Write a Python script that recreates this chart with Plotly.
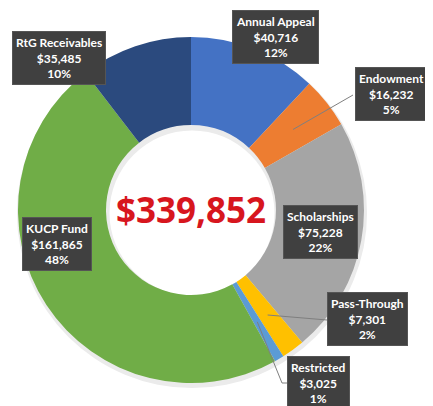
import math
import plotly.graph_objects as go

categories = ["Annual Appeal", "Endowment", "Scholarships", "Pass-Through",
              "Restricted", "KUCP Fund", "RtG Receivables"]
values = [40716, 16232, 75228, 7301, 3025, 161865, 35485]
colors = ["#4472C4", "#ED7D31", "#A5A5A5", "#FFC000", "#5B9BD5", "#70AD47", "#2B4A7E"]
total_label = "$339,852"

W, H = 433, 406
OFF = 8                    # page body margin (px)
CX, CY = 191, 210          # pie centre (screen px)
R_OUT, R_IN = 173, 85      # radii (px)


def px(x):
    return (x - OFF) / W


def py(y):
    return 1 - (y - OFF) / H


total = sum(values)

fig = go.Figure()

# soft shadow behind the ring
fig.add_trace(go.Pie(
    values=[1], sort=False, hole=(R_IN - 2) / (R_OUT + 3),
    marker=dict(colors=["#EBEBEB"], line=dict(width=0)),
    textinfo="none", hoverinfo="skip", showlegend=False,
    domain=dict(x=[px(CX - R_OUT - 2), px(CX + R_OUT + 4)],
                y=[py(CY + R_OUT + 5), py(CY - R_OUT + 1)]),
))

fig.add_trace(go.Pie(
    labels=categories,
    values=values,
    sort=False,
    direction="clockwise",
    rotation=0,
    hole=R_IN / R_OUT,
    marker=dict(colors=colors, line=dict(width=0)),
    textinfo="none",
    hoverinfo="label+value+percent",
    domain=dict(x=[px(CX - R_OUT), px(CX + R_OUT)],
                y=[py(CY + R_OUT), py(CY - R_OUT)]),
    showlegend=False,
))

# label boxes: centre positions (screen px)
box_pos = {
    "Annual Appeal": (275, 37),
    "Endowment": (391, 94),
    "Scholarships": (320, 232),
    "Pass-Through": (367, 319),
    "Restricted": (318, 383),
    "KUCP Fund": (57, 244),
    "RtG Receivables": (59, 58),
}

annotations = []
for cat, val in zip(categories, values):
    pct = round(val / total * 100)
    bx, by = box_pos[cat]
    annotations.append(dict(
        x=px(bx), y=py(by), xref="paper", yref="paper",
        xanchor="center", yanchor="middle",
        text=f"<b>{cat}<br>${val:,}<br>{pct}%</b>",
        showarrow=False, align="center",
        font=dict(family="Lato", size=12, color="white"),
        bgcolor="#404040", bordercolor="#555555", borderwidth=1, borderpad=3,
    ))

annotations.append(dict(
    x=px(CX), y=py(CY), xref="paper", yref="paper",
    xanchor="center", yanchor="middle",
    text=f"<b>{total_label}</b>", showarrow=False,
    font=dict(family="Open Sans", size=35, color="#D7161E"),
))


# leader lines from slice mid-angle
def mid_point(idx, r=130):
    cum = sum(values[:idx]) + values[idx] / 2
    ang = cum / total * 2 * math.pi
    return CX + r * math.sin(ang), CY - r * math.cos(ang)


shapes = []


def leader(idx, pts):
    sx, sy = mid_point(idx)
    path_pts = [(sx, sy)] + pts
    d = "M " + " L ".join(f"{px(x)},{py(y)}" for x, y in path_pts)
    shapes.append(dict(type="path", xref="paper", yref="paper", path=d,
                       line=dict(color="#7F7F7F", width=1)))


leader(1, [(353, 95)])
leader(3, [(327, 320)])
leader(4, [(282, 383), (287, 383)])

fig.update_layout(
    width=W, height=H,
    margin=dict(l=0, r=0, t=0, b=0),
    paper_bgcolor="white", plot_bgcolor="white",
    annotations=annotations, shapes=shapes,
)

fig.write_html("out.html")
